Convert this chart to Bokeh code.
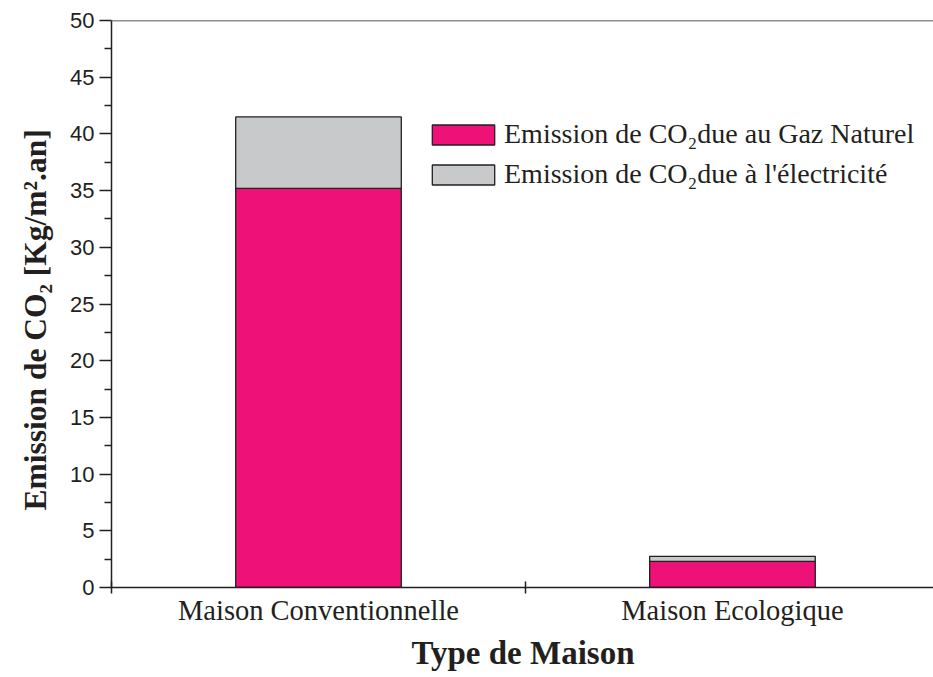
from bokeh.plotting import figure
from bokeh.models import ColumnDataSource, FixedTicker, Span, Title, Legend
from bokeh.embed import file_html
from bokeh.resources import INLINE

categories = ["Maison Conventionnelle", "Maison Ecologique"]
gaz_naturel = [35.2, 2.3]
electricite = [6.3, 0.45]
series_labels = ["Emission de CO\u2082due au Gaz Naturel", "Emission de CO\u2082due \u00e0 l'\u00e9lectricit\u00e9"]
y_ticks = [0, 5, 10, 15, 20, 25, 30, 35, 40, 45, 50]
y_minor = [2.5, 7.5, 12.5, 17.5, 22.5, 27.5, 32.5, 37.5, 42.5, 47.5]
Y_MAX = 50

xs = list(range(1, len(categories) + 1))
source = ColumnDataSource(dict(x=xs, gaz=gaz_naturel, elec=electricite))

INK = "#231f20"
SERIF = "Liberation Serif"

p = figure(width=933, height=677, output_backend="svg", toolbar_location=None,
           x_range=(0.5, 2.488), y_range=(0, Y_MAX),
           frame_width=823, frame_height=567,
           min_border_left=110, min_border_right=0, min_border_top=20, min_border_bottom=0)
p.grid.visible = False
p.outline_line_color = None
p.background_fill_color = "white"

rs = p.vbar_stack(["gaz", "elec"], x="x", width=0.40, source=source,
                  color=["#ed1178", "#c8c9cb"], line_color=INK, line_width=1.3)

legend = Legend(items=[(series_labels[0], [rs[0]]), (series_labels[1], [rs[1]])],
                location=(313, 397), glyph_width=78, glyph_height=25,
                label_text_font=SERIF, label_text_font_size="28px", label_text_color=INK,
                label_standoff=2, spacing=8, padding=0, margin=0,
                border_line_color=None, background_fill_alpha=0)
p.add_layout(legend, "center")

p.add_layout(Span(location=Y_MAX, dimension="width", line_color=INK, line_width=1.5))

# x axis
xa = p.xaxis[0]
xa.ticker = FixedTicker(ticks=xs, minor_ticks=[x - 0.5 for x in xs] + [xs[-1] + 0.5])
xa.major_label_overrides = {x: c for x, c in zip(xs, categories)}
xa.major_tick_line_color = None
xa.major_tick_out = 6
xa.major_tick_in = 0
xa.minor_tick_in = 6
xa.minor_tick_out = 6
xa.minor_tick_line_width = 1.5
xa.minor_tick_line_color = INK
xa.axis_line_width = 1.5
xa.axis_line_color = INK
xa.major_label_text_font = SERIF
xa.major_label_text_font_size = "28.5px"
xa.major_label_text_color = INK
xa.major_label_standoff = 1
xa.axis_label = "Type de Maison"
xa.axis_label_text_font = SERIF
xa.axis_label_text_font_style = "bold"
xa.axis_label_text_font_size = "33px"
xa.axis_label_text_color = INK
xa.axis_label_standoff = 6

# y axis
ya = p.yaxis[0]
ya.ticker = FixedTicker(ticks=y_ticks, minor_ticks=y_minor)
ya.major_tick_out = 12
ya.major_tick_in = 0
ya.minor_tick_out = 7
ya.minor_tick_in = 0
ya.major_tick_line_width = 1.5
ya.minor_tick_line_width = 1.5
ya.major_tick_line_color = INK
ya.minor_tick_line_color = INK
ya.axis_line_width = 1.5
ya.axis_line_color = INK
ya.major_label_text_font = "Liberation Sans"
ya.major_label_text_font_size = "22px"
ya.major_label_text_color = INK
ya.major_label_standoff = 5
ya.axis_label = None

yt = Title(text="Emission de CO\u2082 [Kg/m\u00b2.an]", align="left", offset=77,
           text_font=SERIF, text_font_style="bold", text_font_size="31.5px",
           text_color=INK, standoff=30)
p.add_layout(yt, "left")

open("out.html", "w").write(file_html(p, INLINE))
